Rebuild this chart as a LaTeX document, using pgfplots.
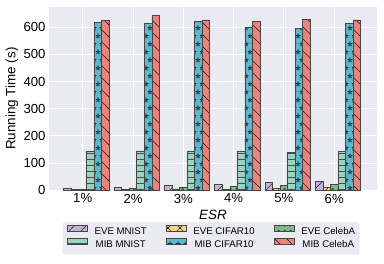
\documentclass[border=0pt]{standalone}
\usepackage{fontspec}
\setmainfont{Liberation Sans}
\usepackage{pgfplots}
\pgfplotsset{compat=1.18}
\usetikzlibrary{patterns,calc}

\definecolor{bgc}{RGB}{234,234,242}
\definecolor{cPur}{RGB}{196,178,216}
\definecolor{cYel}{RGB}{249,214,125}
\definecolor{cGrn}{RGB}{124,190,130}
\definecolor{cMnt}{RGB}{152,212,192}
\definecolor{cBlu}{RGB}{92,184,204}
\definecolor{cRed}{RGB}{234,131,121}
\definecolor{edgec}{RGB}{70,70,70}

\pgfdeclarepatternformonly{hne}{\pgfpoint{-1bp}{-1bp}}{\pgfpoint{13bp}{13bp}}{\pgfpoint{12bp}{12bp}}{%
  \pgfsetlinewidth{0.6bp}\pgfpathmoveto{\pgfpoint{-1bp}{-1bp}}\pgfpathlineto{\pgfpoint{13bp}{13bp}}\pgfusepath{stroke}}
\pgfdeclarepatternformonly{hnw}{\pgfpoint{-1bp}{-1bp}}{\pgfpoint{13bp}{13bp}}{\pgfpoint{12bp}{12bp}}{%
  \pgfsetlinewidth{0.6bp}\pgfpathmoveto{\pgfpoint{-1bp}{13bp}}\pgfpathlineto{\pgfpoint{13bp}{-1bp}}\pgfusepath{stroke}}
\pgfdeclarepatternformonly{hx}{\pgfpoint{-1bp}{-1bp}}{\pgfpoint{13bp}{13bp}}{\pgfpoint{12bp}{12bp}}{%
  \pgfsetlinewidth{0.6bp}\pgfpathmoveto{\pgfpoint{-1bp}{-1bp}}\pgfpathlineto{\pgfpoint{13bp}{13bp}}%
  \pgfpathmoveto{\pgfpoint{-1bp}{13bp}}\pgfpathlineto{\pgfpoint{13bp}{-1bp}}\pgfusepath{stroke}}
\pgfdeclarepatternformonly{hh}{\pgfpoint{-1bp}{0bp}}{\pgfpoint{7bp}{6bp}}{\pgfpoint{6bp}{6bp}}{%
  \pgfsetlinewidth{0.7bp}\pgfpathmoveto{\pgfpoint{-1bp}{3bp}}\pgfpathlineto{\pgfpoint{7bp}{3bp}}\pgfusepath{stroke}}
\pgfdeclarepatternformonly{hcirc}{\pgfpoint{0bp}{0bp}}{\pgfpoint{6bp}{6bp}}{\pgfpoint{6bp}{6bp}}{%
  \pgfsetlinewidth{0.5bp}\pgfpathcircle{\pgfpoint{3bp}{3bp}}{1.2bp}\pgfusepath{stroke}}
\newcommand{\mystar}[2]{%
  \pgfpathmoveto{\pgfpointadd{\pgfpoint{#1}{#2}}{\pgfpointpolar{90}{2.1bp}}}%
  \pgfpathlineto{\pgfpointadd{\pgfpoint{#1}{#2}}{\pgfpointpolar{126}{0.85bp}}}%
  \pgfpathlineto{\pgfpointadd{\pgfpoint{#1}{#2}}{\pgfpointpolar{162}{2.1bp}}}%
  \pgfpathlineto{\pgfpointadd{\pgfpoint{#1}{#2}}{\pgfpointpolar{198}{0.85bp}}}%
  \pgfpathlineto{\pgfpointadd{\pgfpoint{#1}{#2}}{\pgfpointpolar{234}{2.1bp}}}%
  \pgfpathlineto{\pgfpointadd{\pgfpoint{#1}{#2}}{\pgfpointpolar{270}{0.85bp}}}%
  \pgfpathlineto{\pgfpointadd{\pgfpoint{#1}{#2}}{\pgfpointpolar{306}{2.1bp}}}%
  \pgfpathlineto{\pgfpointadd{\pgfpoint{#1}{#2}}{\pgfpointpolar{342}{0.85bp}}}%
  \pgfpathlineto{\pgfpointadd{\pgfpoint{#1}{#2}}{\pgfpointpolar{18}{2.1bp}}}%
  \pgfpathlineto{\pgfpointadd{\pgfpoint{#1}{#2}}{\pgfpointpolar{54}{0.85bp}}}%
  \pgfpathclose}
\pgfdeclarepatternformonly{hstar}{\pgfpoint{-0.5bp}{-0.5bp}}{\pgfpoint{8.5bp}{16.5bp}}{\pgfpoint{8bp}{16bp}}{%
  \pgfsetlinewidth{0.55bp}\mystar{2bp}{4bp}\mystar{6bp}{12bp}\pgfusepath{stroke}}

\pgfplotsset{
  mylegend/.style={legend image code/.code={\draw[##1, sharp corners] (0bp,0.5bp) rectangle (20bp,6.5bp);}},
}

\begin{document}
\begin{tikzpicture}
\begin{axis}[
  scale only axis,
  width=328bp, height=183.3bp,
  ybar, bar width=0.15,
  xmin=-0.67, xmax=5.85,
  ymin=0, ymax=674.7,
  xtick={0,1,2,3,4,5},
  xticklabels={1\%,2\%,3\%,4\%,5\%,6\%},
  ytick={0,100,200,300,400,500,600},
  /pgf/number format/assume math mode=true,
  tick label style={font=\fontsize{13.2}{15}\selectfont},
  major tick length=0pt,
  axis background/.style={fill=bgc},
  axis line style={draw=none},
  grid=major,
  major grid style={draw=white, line width=1bp},
  xlabel={\itshape ESR},
  ylabel={Running Time (s)},
  label style={font=\fontsize{13.5}{16}\selectfont},
  xlabel style={at={(axis description cs:0.5,-0.133)}, anchor=center},
  ylabel style={at={(axis description cs:-0.1135,0.5)}, anchor=center},
  legend columns=3,
  legend style={
    at={(axis description cs:0.494,-0.175)}, anchor=north,
    fill=bgc, draw=white!82!gray, rounded corners=2bp,
    font=\fontsize{9.7}{11}\selectfont,
    inner xsep=4bp, inner ysep=2.5bp,
    nodes={inner xsep=0bp, inner ysep=2bp, text height=7bp, text depth=2bp},
    /tikz/every odd column/.append style={column sep=7bp},
    /tikz/every even column/.append style={column sep=19bp},
  },
]
\addplot[mylegend, bar shift=-0.30, fill=cPur, draw=edgec, line width=0.7bp, postaction={pattern=hne, pattern color=black!80}]
  coordinates {(0,7) (1,11) (2,19) (3,23) (4,29) (5,33)};
\addlegendentry{EVE MNIST}
\addplot[mylegend, bar shift=-0.15, fill=cYel, draw=edgec, line width=0.7bp, postaction={pattern=hx, pattern color=black!80}]
  coordinates {(0,2) (1,3) (2,5) (3,5) (4,7) (5,12)};
\addlegendentry{EVE CIFAR10}
\addplot[mylegend, bar shift=0.00, fill=cGrn, draw=edgec, line width=0.7bp, postaction={pattern=hcirc, pattern color=black!80}]
  coordinates {(0,3) (1,6) (2,10) (3,16) (4,19) (5,22)};
\addlegendentry{EVE CelebA}
\addplot[mylegend, bar shift=0.15, fill=cMnt, draw=edgec, line width=0.7bp, postaction={pattern=hh, pattern color=black!70}]
  coordinates {(0,145) (1,145) (2,145) (3,145) (4,140) (5,145)};
\addlegendentry{MIB MNIST}
\addplot[mylegend, bar shift=0.30, fill=cBlu, draw=edgec, line width=0.7bp, postaction={pattern=hstar, pattern color=black!85}]
  coordinates {(0,618) (1,615) (2,622) (3,600) (4,596) (5,615)};
\addlegendentry{MIB CIFAR10}
\addplot[mylegend, bar shift=0.45, fill=cRed, draw=edgec, line width=0.7bp, postaction={pattern=hnw, pattern color=black!85}]
  coordinates {(0,625) (1,643) (2,627) (3,622) (4,629) (5,627)};
\addlegendentry{MIB CelebA}
\end{axis}
\pgfresetboundingbox
\path ($(current axis.south west)+(-49bp,-73.7bp)$) rectangle ($(current axis.north east)+(7bp,7bp)$);
\end{tikzpicture}
\end{document}
